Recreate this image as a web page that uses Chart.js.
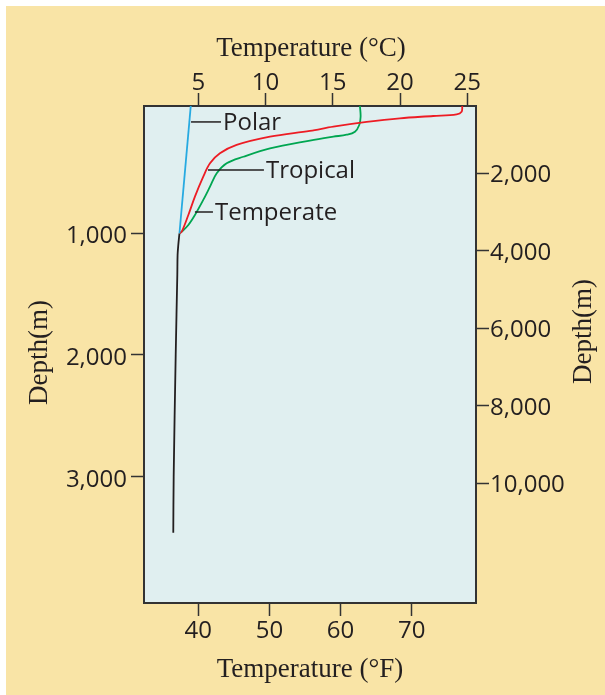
<!DOCTYPE html>
<html>
<head>
<meta charset="utf-8">
<script src="https://cdn.jsdelivr.net/npm/chart.js@4.4.1/dist/chart.umd.min.js"></script>
<style>
  body { margin: 0; background: #fff; }
  #wrap { position: absolute; left: 6px; top: 6px; width: 599px; height: 689px; background: #f9e4a6; }
</style>
</head>
<body>
<div id="wrap"><canvas id="myChart" width="599" height="689"></canvas></div>
<script>
// temperature (deg C) and depth (m)
const polarTemp = [4.44, 3.60];
const polarDepth = [-46, 1000];

const tropicalTemp = [24.63, 24.58, 24.21, 22.47, 19.99, 17.52, 15.04, 13.30, 10.33, 7.85, 6.61, 5.87, 5.37, 4.75, 4.26, 3.77, 3.60];
const tropicalDepth = [-46, 1, 22, 36, 55, 85, 124, 158, 206, 274, 343, 425, 535, 699, 850, 987, 1000];

const temperateTemp = [17.02, 17.07, 16.97, 16.65, 16.03, 15.04, 13.30, 10.33, 8.35, 7.11, 6.37, 5.87, 5.37, 4.75, 4.26, 3.77, 3.60];
const temperateDepth = [-46, 42, 110, 165, 190, 206, 238, 302, 371, 425, 507, 617, 726, 850, 932, 987, 1000];

// below the thermocline all three follow the same line
const deepTemp = [3.60, 3.51, 3.46, 3.44, 3.32, 3.17, 3.14];
const deepDepth = [1000, 1100, 1180, 1340, 2000, 3000, 3460];

// tick labels for the four axes
const ticksC = [5, 10, 15, 20, 25];
const ticksF = [40, 50, 60, 70];
const ticksM = [1000, 2000, 3000];
const ticksFt = [2000, 4000, 6000, 8000, 10000];

// labels with a short leader line (deg C from/to, depth m)
const callouts = [
    { text: 'Polar', from: 4.46, to: 6.69, depth: 85 },
    { text: 'Tropical', from: 5.72, to: 9.88, depth: 480 },
    { text: 'Temperate', from: 4.75, to: 6.09, depth: 825 }
];

const ink = '#231f20';
const sans = "'Open Sans', sans-serif";

function toPoints(temps, depths) {
    return temps.map((t, i) => ({ x: t, y: depths[i] }));
}

function fixedSize(size) {
    return function(scale) {
        if (scale.isHorizontal()) scale.height = size;
        else scale.width = size;
    };
}

function useTicks(list) {
    return function(scale) {
        scale.ticks = list.map(v => ({ value: v }));
    };
}

function axis(position, min, max, list, size, extra) {
    return Object.assign({
        type: 'linear',
        position: position,
        min: min,
        max: max,
        afterBuildTicks: useTicks(list),
        afterFit: fixedSize(size),
        border: { display: true, color: '#333', width: 2 },
        grid: { drawOnChartArea: false, drawTicks: true, tickLength: 13, tickWidth: 1.5, tickColor: '#333' },
        ticks: {
            color: ink,
            font: { family: sans, size: 24, lineHeight: 1 },
            callback: v => v.toLocaleString('en-US')
        }
    }, extra || {});
}

const plotBackground = {
    id: 'plotBackground',
    beforeDraw(chart) {
        const { ctx, chartArea: a } = chart;
        ctx.save();
        ctx.fillStyle = '#e0eff0';
        ctx.fillRect(a.left, a.top, a.right - a.left, a.bottom - a.top);
        ctx.restore();
    }
};

const calloutLabels = {
    id: 'calloutLabels',
    afterDatasetsDraw(chart) {
        const { ctx, scales } = chart;
        ctx.save();
        ctx.strokeStyle = ink;
        ctx.lineWidth = 1.5;
        ctx.fillStyle = ink;
        ctx.font = '24px ' + sans;
        ctx.textBaseline = 'middle';
        callouts.forEach(c => {
            const y = scales.yM.getPixelForValue(c.depth);
            const x0 = scales.xC.getPixelForValue(c.from);
            const x1 = scales.xC.getPixelForValue(c.to);
            ctx.beginPath();
            ctx.moveTo(x0, y);
            ctx.lineTo(x1, y);
            ctx.stroke();
            ctx.fillText(c.text, x1 + 2, y + 1.5);
        });
        ctx.restore();
    }
};

const axisTitles = {
    id: 'axisTitles',
    afterDraw(chart) {
        const { ctx, chartArea: a } = chart;
        const midX = (a.left + a.right) / 2;
        const midY = (a.top + a.bottom) / 2;
        ctx.save();
        ctx.fillStyle = ink;
        ctx.font = "27px 'Liberation Serif', serif";
        ctx.textAlign = 'center';
        ctx.textBaseline = 'alphabetic';
        ctx.fillText('Temperature (\u00b0C)', midX + 1, a.top - 50.5);
        ctx.fillText('Temperature (\u00b0F)', midX, a.bottom + 73.5);
        // both depth titles read bottom to top
        [[a.left - 97, midY - 2], [a.right + 115, midY - 23]].forEach(([x, y]) => {
            ctx.save();
            ctx.translate(x, y);
            ctx.rotate(-Math.PI / 2);
            ctx.fillText('Depth(m)', 0, 0);
            ctx.restore();
        });
        ctx.restore();
    }
};

function series(label, temps, depths, color) {
    return {
        label: label,
        data: toPoints(temps, depths),
        showLine: true,
        borderColor: color,
        borderWidth: 1.8,
        pointRadius: 0,
        tension: 0.35,
        xAxisID: 'xC',
        yAxisID: 'yM'
    };
}

const ctx = document.getElementById('myChart').getContext('2d');
const chart = new Chart(ctx, {
    type: 'scatter',
    data: {
        datasets: [
            series('Polar', polarTemp, polarDepth, '#27aae1'),
            series('Tropical', tropicalTemp, tropicalDepth, '#ed1c24'),
            series('Temperate', temperateTemp, temperateDepth, '#00a651'),
            series('Deep', deepTemp, deepDepth, ink)
        ]
    },
    options: {
        responsive: false,
        animation: false,
        layout: { padding: 0 },
        plugins: {
            legend: { display: false },
            tooltip: { enabled: false }
        },
        scales: {
            xC: axis('top', 0.963, 25.65, ticksC, 100, { ticks: { color: ink, padding: -2, font: { family: sans, size: 24, lineHeight: 1 } } }),
            xF: axis('bottom', 32.37, 79.04, ticksF, 92, { ticks: { color: ink, padding: 3, font: { family: sans, size: 24, lineHeight: 1 } } }),
            yM: axis('left', -46, 4038, ticksM, 138, {
                reverse: true,
                ticks: { color: ink, padding: 4, labelOffset: 3, font: { family: sans, size: 24, lineHeight: 1 }, callback: v => v.toLocaleString('en-US') }
            }),
            yFt: axis('right', 263, 13089, ticksFt, 129, {
                reverse: true,
                ticks: { color: ink, padding: 1, labelOffset: 2, font: { family: sans, size: 24, lineHeight: 1 }, callback: v => v.toLocaleString('en-US') }
            })
        }
    },
    plugins: [plotBackground, calloutLabels, axisTitles]
});
</script>
</body>
</html>
